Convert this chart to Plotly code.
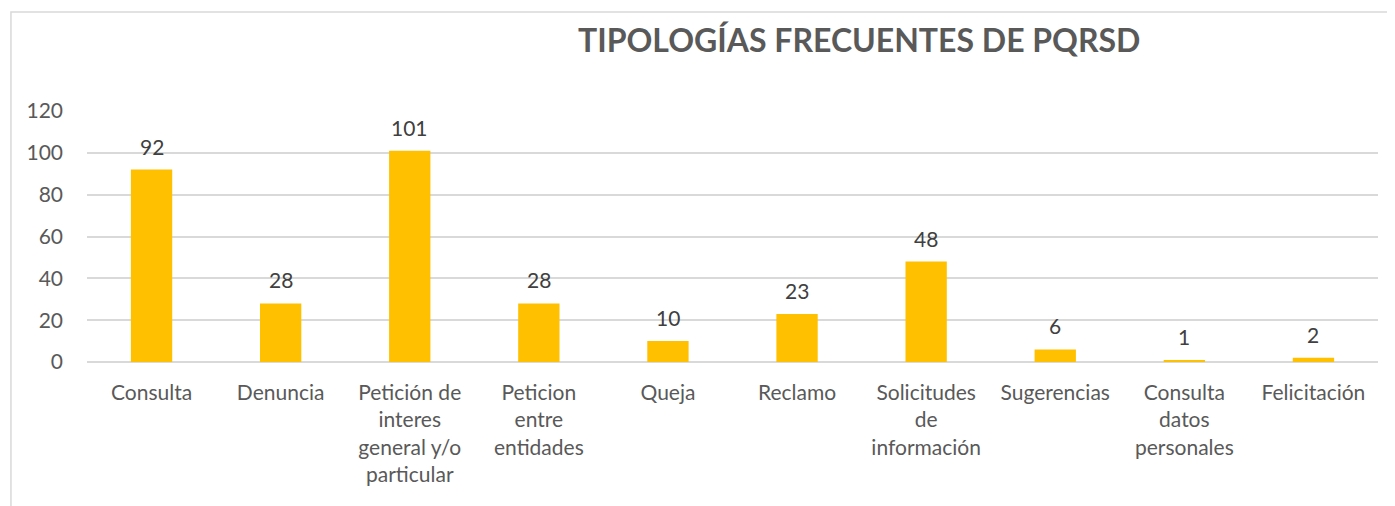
import plotly.graph_objects as go

categories = [
    "Consulta",
    "Denuncia",
    "Petición de<br>interes<br>general y/o<br>particular",
    "Peticion<br>entre<br>entidades",
    "Queja",
    "Reclamo",
    "Solicitudes<br>de<br>información",
    "Sugerencias",
    "Consulta<br>datos<br>personales",
    "Felicitación",
]
values = [92, 28, 101, 28, 10, 23, 48, 6, 1, 2]
ytick_vals = [0, 20, 40, 60, 80, 100, 120]
title_text = "TIPOLOGÍAS FRECUENTES DE PQRSD"

FONT = "Lato"

fig = go.Figure(
    go.Bar(
        x=categories,
        y=values,
        marker=dict(color="#FFC000", line=dict(width=0)),
        cliponaxis=False,
    )
)

label_annotations = [
    dict(
        x=c, y=v, xref="x", yref="y",
        text=str(v), showarrow=False,
        xanchor="center", yanchor="bottom", yshift=9,
        font=dict(family=FONT, size=21, color="#404040"),
    )
    for c, v in zip(categories, values)
]

fig.update_layout(
    width=1387,
    height=498,
    margin=dict(l=79, r=17, t=103, b=144),
    paper_bgcolor="white",
    plot_bgcolor="white",
    bargap=0.68,
    showlegend=False,
    font=dict(family=FONT, color="#595959"),
    annotations=[
        dict(
            text="<b>" + title_text + "</b>",
            xref="paper", yref="paper",
            x=0.598, y=1.283,
            xanchor="center", yanchor="middle",
            showarrow=False,
            font=dict(family=FONT, size=32, color="#595959"),
        )
    ] + label_annotations,
    shapes=[
        dict(
            type="rect", xref="paper", yref="paper",
            x0=-0.0589, y0=-1.0, x1=1.2, y1=1.394,
            line=dict(color="#D9D9D9", width=1.5),
            fillcolor="rgba(0,0,0,0)",
            layer="below",
        )
    ],
)

fig.update_xaxes(
    type="category",
    showgrid=False,
    showline=False,
    ticks="",
    tickfont=dict(family=FONT, size=21, color="#595959"),
    ticklabelstandoff=16,
    tickangle=0,
)
fig.update_yaxes(
    range=[0, 120],
    tickvals=ytick_vals,
    showgrid=True,
    gridcolor="#D9D9D9",
    gridwidth=1.5,
    zeroline=True,
    zerolinecolor="#D9D9D9",
    zerolinewidth=1.5,
    showline=False,
    ticks="",
    tickfont=dict(family=FONT, size=21, color="#595959"),
    ticklabelstandoff=23,
)

fig.write_html("out.html")
